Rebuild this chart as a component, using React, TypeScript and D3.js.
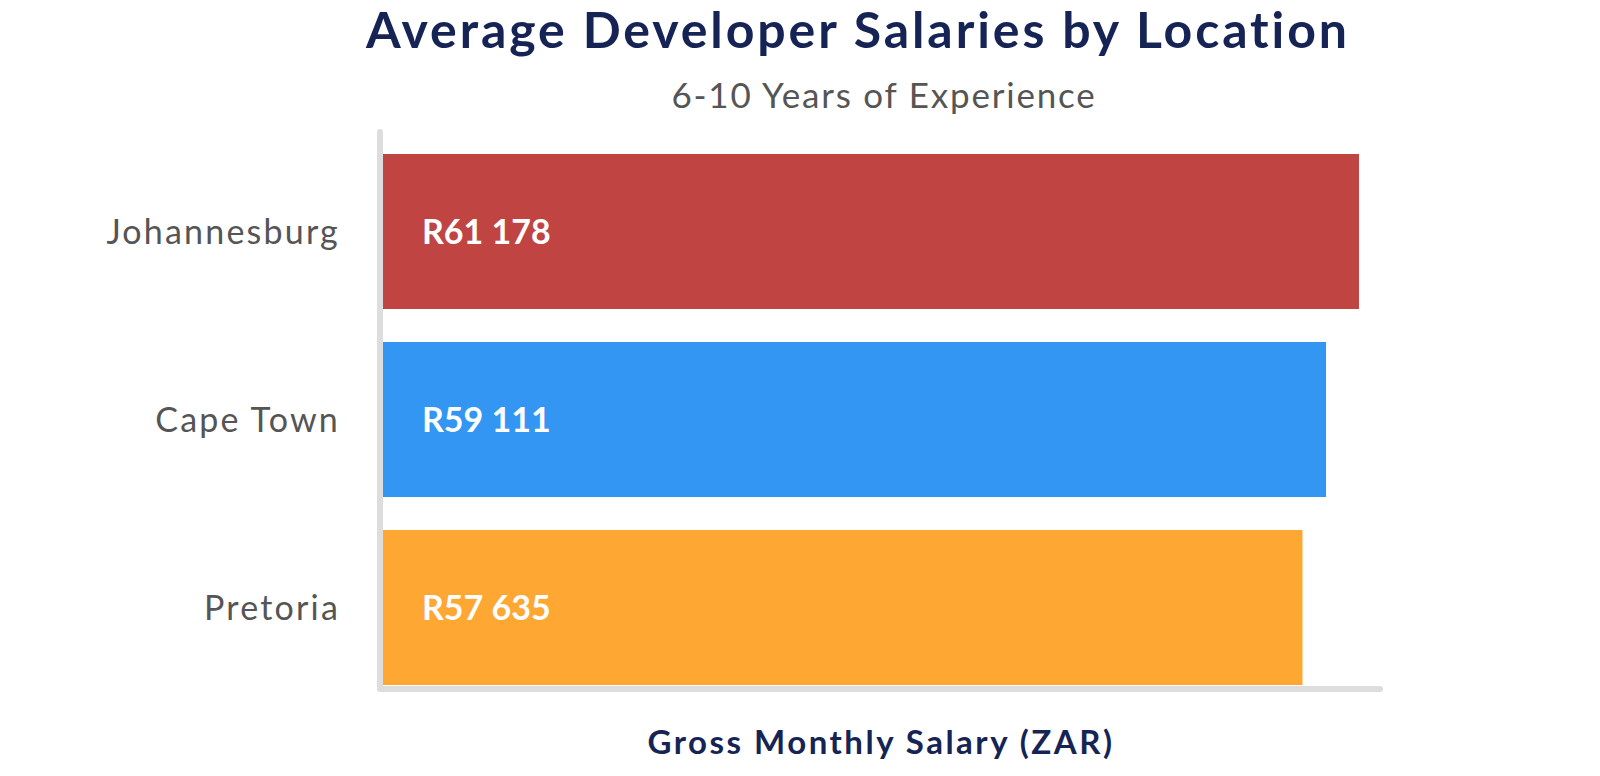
import React from "react"
import * as d3 from "d3"

const cities: string[] = ["Johannesburg", "Cape Town", "Pretoria"]
const salaries: number[] = [61178, 59111, 57635]
const barColors: string[] = ["#c04542", "#3296f2", "#fea733"]
const valueLabels: string[] = ["R61 178", "R59 111", "R57 635"]

const titleText = "Average Developer Salaries by Location"
const subtitleText = "6-10 Years of Experience"
const xAxisTitle = "Gross Monthly Salary (ZAR)"

const App: React.FC = () => {
	const width = 1600
	const height = 776
	const margin = { top: 154, right: 221, bottom: 91, left: 383 }

	const navy = "#152454"
	const grey = "#555555"
	const axisGrey = "#dddddd"
	// Proxima Nova is not installed; Lato with some tracking comes close
	const font = "Lato, 'Open Sans', sans-serif"

	const xScale = d3
		.scaleLinear()
		.domain([0, d3.max(salaries) as number])
		.range([margin.left, 1359])

	const yScale = d3
		.scaleBand<string>()
		.domain(cities)
		.range([margin.top, height - margin.bottom])
		.paddingInner(0.1755)
		.paddingOuter(0)

	const axisX = margin.left - 3
	const axisBottom = height - margin.bottom + 4

	return (
		<div style={{ position: "absolute", left: 0, top: 0 }}>
			<svg width={width} height={height} style={{ display: "block", background: "#fff" }}>
				{/* titles */}
				<text
					x={858}
					y={48}
					textAnchor="middle"
					fontFamily={font}
					fontWeight={700}
					fontSize={50}
					letterSpacing={2.9}
					fill={navy}>
					{titleText}
				</text>
				<text
					x={884}
					y={108}
					textAnchor="middle"
					fontFamily={font}
					fontSize={35}
					letterSpacing={1.8}
					fill={grey}>
					{subtitleText}
				</text>

				{/* bars */}
				{cities.map((c, i) => (
					<g key={c}>
						<rect
							x={xScale(0)}
							y={yScale(c)}
							width={xScale(salaries[i]) - xScale(0)}
							height={yScale.bandwidth()}
							fill={barColors[i]}
						/>
						<text
							x={xScale(0) + 39}
							y={(yScale(c) as number) + yScale.bandwidth() / 2}
							dy="0.36em"
							fontFamily={font}
							fontWeight={700}
							fontSize={34}
							fill="#ffffff">
							{valueLabels[i]}
						</text>
						<text
							x={340}
							y={(yScale(c) as number) + yScale.bandwidth() / 2}
							dy="0.36em"
							textAnchor="end"
							fontFamily={font}
							fontSize={34}
							letterSpacing={2.2}
							fill={grey}>
							{c}
						</text>
					</g>
				))}

				{/* axis lines */}
				<path
					d={`M${axisX},132 L${axisX},${axisBottom} L1380,${axisBottom}`}
					fill="none"
					stroke={axisGrey}
					strokeWidth={6}
					strokeLinecap="round"
					strokeLinejoin="round"
				/>

				<text
					x={881}
					y={754}
					textAnchor="middle"
					fontFamily={font}
					fontWeight={700}
					fontSize={33}
					letterSpacing={2.5}
					fill={navy}>
					{xAxisTitle}
				</text>
			</svg>
		</div>
	)
}

export default App
